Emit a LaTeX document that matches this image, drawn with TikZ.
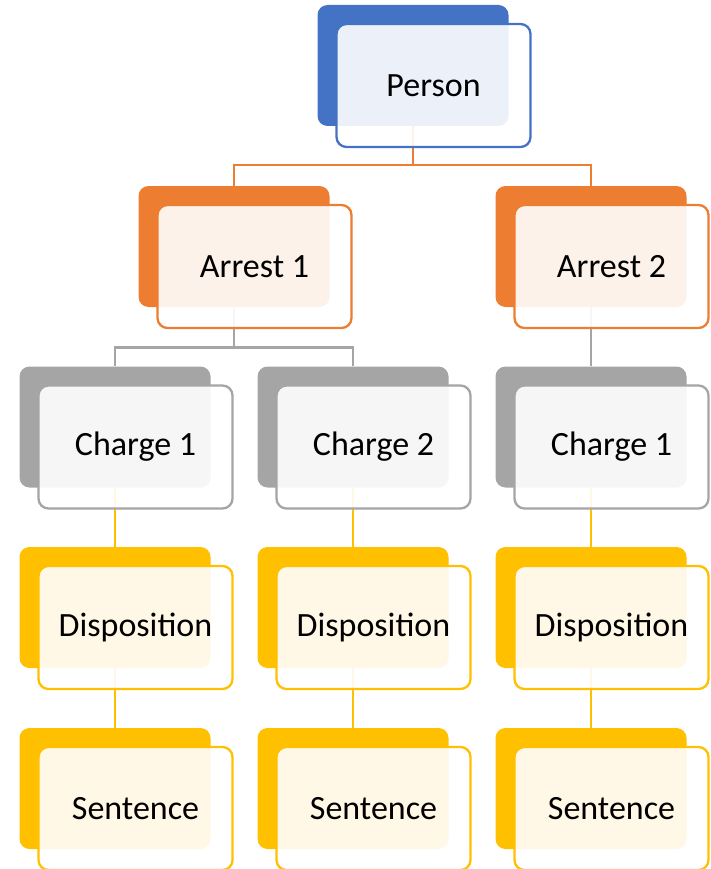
\documentclass[tikz,border=0pt]{standalone}
\usepackage{fontspec}
\setmainfont{Carlito}
\definecolor{cblue}{HTML}{4472C4}
\definecolor{corange}{HTML}{ED7D31}
\definecolor{cgray}{HTML}{A5A5A5}
\definecolor{cgold}{HTML}{FFC000}
\tikzset{
  backbox/.style={rectangle, rounded corners=10pt, minimum width=191pt, minimum height=121pt, inner sep=0pt, draw=none},
  frontbox/.style={rectangle, rounded corners=10pt, minimum width=194pt, minimum height=123pt, inner sep=0pt, line width=2.3pt, fill=white, fill opacity=0.9, text opacity=1, font=\fontsize{34}{40}\selectfont},
  conn/.style={line width=2.6pt},
}
\newcommand\HNode[4]{%
  \node[backbox, fill=#4] (#1B) at (#2pt,-#3pt) {};
}
\newcommand\HFront[3]{%
  \node[frontbox, draw=#2] (#1F) at ([xshift=20.5pt,yshift=-20pt]#1B.center) {#3};
}
\begin{document}
\begin{tikzpicture}[x=1pt,y=1pt]
\useasboundingbox (0,0) rectangle (710,-869);
% back boxes
\HNode{p}{413}{65.5}{cblue}
\HNode{a}{234}{246.5}{corange}
\HNode{b}{591}{246.5}{corange}
\HNode{c}{115}{427}{cgray}
\HNode{d}{353}{427}{cgray}
\HNode{e}{591}{427}{cgray}
\HNode{f}{115}{607.5}{cgold}
\HNode{g}{353}{607.5}{cgold}
\HNode{h}{591}{607.5}{cgold}
\HNode{i}{115}{788.5}{cgold}
\HNode{j}{353}{788.5}{cgold}
\HNode{k}{591}{788.5}{cgold}
% connectors
\draw[conn, corange] (pB.south) -- ++(0,-39) -| (aB.north);
\draw[conn, corange] (pB.south) -- ++(0,-39) -| (bB.north);
\draw[conn, cgray] (aB.south) -- ++(0,-40) -| (cB.north);
\draw[conn, cgray] (aB.south) -- ++(0,-40) -| (dB.north);
\draw[conn, cgray] (bB.south) -- (eB.north);
\draw[conn, cgold] (cB.south) -- (fB.north);
\draw[conn, cgold] (dB.south) -- (gB.north);
\draw[conn, cgold] (eB.south) -- (hB.north);
\draw[conn, cgold] (fB.south) -- (iB.north);
\draw[conn, cgold] (gB.south) -- (jB.north);
\draw[conn, cgold] (hB.south) -- (kB.north);
% front boxes
\HFront{p}{cblue}{Person}
\HFront{a}{corange}{Arrest 1}
\HFront{b}{corange}{Arrest 2}
\HFront{c}{cgray}{Charge 1}
\HFront{d}{cgray}{Charge 2}
\HFront{e}{cgray}{Charge 1}
\HFront{f}{cgold}{Disposition}
\HFront{g}{cgold}{Disposition}
\HFront{h}{cgold}{Disposition}
\HFront{i}{cgold}{Sentence}
\HFront{j}{cgold}{Sentence}
\HFront{k}{cgold}{Sentence}
\end{tikzpicture}
\end{document}
